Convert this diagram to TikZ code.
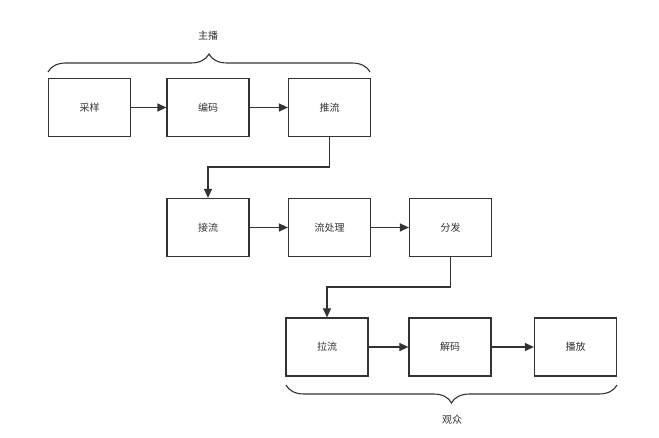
\documentclass[tikz,border=0pt]{standalone}
\usepackage{fontspec}
\setmainfont{Noto Sans CJK SC}
\usetikzlibrary{arrows.meta,decorations.pathreplacing}
\definecolor{ink}{HTML}{333333}
\begin{document}
\begin{tikzpicture}[x=1pt,y=-1pt,
  stepbox/.style={draw=ink,line width=1.2pt,minimum width=82pt,minimum height=58pt,inner sep=0pt,text=ink,font=\fontsize{10}{12}\selectfont},
  arr/.style={draw=ink,line width=1.2pt,-{Triangle[length=9pt,width=8pt]}},
  brc/.style={draw=ink,line width=1.1pt,decorate,decoration={brace,amplitude=18pt}},
  lbl/.style={text=ink,font=\fontsize{10}{12}\selectfont}]
\useasboundingbox[fill=white] (0,0) rectangle (659,438);
\node[stepbox] (cai) at (89.5,107.5) {采样};
\node[stepbox] (bian) at (208,107.5) {编码};
\node[stepbox] (tui) at (329.5,107.5) {推流};
\node[stepbox] (jie) at (208,227.5) {接流};
\node[stepbox] (chu) at (329.5,227.5) {流处理};
\node[stepbox] (fen) at (450.5,227.5) {分发};
\node[stepbox] (la) at (327,347) {拉流};
\node[stepbox] (jiema) at (450,347) {解码};
\node[stepbox] (bo) at (575.5,347) {播放};
\draw[arr] (cai) -- (bian);
\draw[arr] (bian) -- (tui);
\draw[arr] (jie) -- (chu);
\draw[arr] (chu) -- (fen);
\draw[arr] (la) -- (jiema);
\draw[arr] (jiema) -- (bo);
\coordinate (k1) at (329.5,167);
\coordinate (k2) at (450.5,287);
\draw[arr] (tui.south) -- (k1) -| (jie.north);
\draw[arr] (fen.south) -- (k2) -| (la.north);
\coordinate (b1l) at (48,72);
\coordinate (b1r) at (370,72);
\coordinate (b2l) at (286,385);
\coordinate (b2r) at (617,385);
\draw[brc] (b1l) -- (b1r);
\draw[brc] (b2r) -- (b2l);
\node[lbl] (zhubo) at (208,36) {主播};
\node[lbl] (guanzhong) at (452,420) {观众};
\end{tikzpicture}
\end{document}
